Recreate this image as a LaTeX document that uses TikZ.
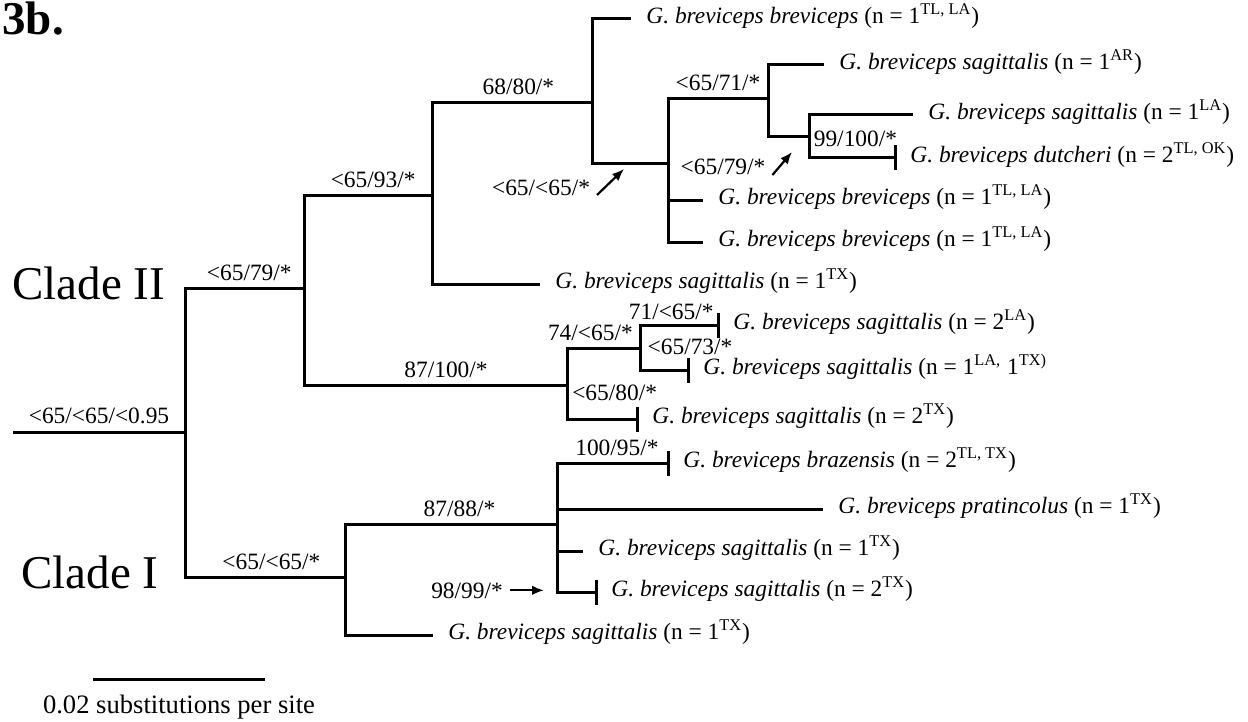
\documentclass[tikz,border=0pt]{standalone}
\usepackage{fontspec}
\setmainfont{Liberation Serif}
\usetikzlibrary{positioning,arrows.meta}

\newcommand{\gbrev}[3]{\textit{G. breviceps #1} (n = #2\textsuperscript{#3})}

\begin{document}
\begin{tikzpicture}[x=0.5pt, y=-0.5pt,
  font=\fontsize{11.7}{14}\selectfont,
  branch/.style={line width=1.5pt},
  supp/.style={anchor=base, inner sep=0pt, pos=.77, yshift=#1},
  supp/.default=4pt,
  taxon/.style={anchor=mid west, inner sep=0pt},
  ptr/.style={line width=1.1pt, -{Latex[length=6pt,width=4.8pt]}},
  clade/.style={anchor=base west, inner sep=0pt, font=\fontsize{23.5}{28}\selectfont}]
\useasboundingbox (0,0) rectangle (1248,722);

% inner nodes
\coordinate (r0)  at (13,432);
\coordinate (r)   at (185,432);
\coordinate (n2)  at (304,288);
\coordinate (n3)  at (432,195);
\coordinate (n4)  at (592,103);
\coordinate (n5)  at (668,164);
\coordinate (n6)  at (768,99);
\coordinate (n7)  at (809,137);
\coordinate (n8)  at (567,385);
\coordinate (n9)  at (640,348);
\coordinate (n10) at (345,577);
\coordinate (n11) at (557,524);

% tips
\coordinate (t1)  at (631,19);
\coordinate (t2)  at (824,65);
\coordinate (t3)  at (913,115);
\coordinate (t4)  at (895,158);
\coordinate (t5)  at (703,200);
\coordinate (t6)  at (703,242);
\coordinate (t7)  at (540,284);
\coordinate (t8)  at (718,325);
\coordinate (t9)  at (688,370);
\coordinate (t10) at (637,419);
\coordinate (t11) at (668,463);
\coordinate (t12) at (823,509);
\coordinate (t13) at (583,551);
\coordinate (t14) at (596,592);
\coordinate (t15) at (433,635);

% branches
\draw[branch] (r0) -- node[supp=4.5pt, pos=.5] (b1) {<65/<65/<0.95} (r);
\draw[branch] (r) |- node[supp] (b2) {<65/79/*} (n2);
\draw[branch] (r) |- node[supp] (b10) {<65/<65/*} (n10);
\draw[branch] (n2) |- node[supp] (b3) {<65/93/*} (n3);
\draw[branch] (n2) |- node[supp] (b8) {87/100/*} (n8);
\draw[branch] (n3) |- node[supp] (b4) {68/80/*} (n4);
\draw[branch] (n3) |- (t7);
\draw[branch] (n4) |- (t1);
\draw[branch] (n4) |- (n5);
\draw[branch] (n5) |- node[supp, pos=.75] (b6) {<65/71/*} (n6);
\draw[branch] (n5) |- (t5);
\draw[branch] (n5) |- (t6);
\draw[branch] (n6) |- (t2);
\draw[branch] (n6) |- (n7);
\draw[branch] (n7) |- (t3);
\draw[branch] (n7) |- node[supp=5.5pt] (b7) {99/100/*} (t4);
\draw[branch] (n8) |- node[supp, pos=.66] (b9) {74/<65/*} (n9);
\draw[branch] (n8) |- node[supp=9.5pt, pos=.84] (b10t) {<65/80/*} (t10);
\draw[branch] (n9) |- node[supp=3pt, pos=.7] (b8t) {71/<65/*} (t8);
\draw[branch] (n9) |- node[supp=8pt, pos=1, xshift=1pt] (b9t) {<65/73/*} (t9);
\draw[branch] (n10) |- node[supp] (b11) {87/88/*} (n11);
\draw[branch] (n10) |- (t15);
\draw[branch] (n11) |- node[supp] (b11t) {100/95/*} (t11);
\draw[branch] (n11) |- (t12);
\draw[branch] (n11) |- (t13);
\draw[branch] (n11) |- (t14);
\foreach \t in {t4,t8,t9,t10,t11,t14}
  \draw[branch] ([yshift=6.25pt]\t) -- ([yshift=-6.25pt]\t);

% tip labels
\node[right=7.5pt of t1,  taxon] (l1)  {\gbrev{breviceps}{1}{TL, LA}};
\node[right=7.5pt of t2,  taxon] (l2)  {\gbrev{sagittalis}{1}{AR}};
\node[right=7.5pt of t3,  taxon] (l3)  {\gbrev{sagittalis}{1}{LA}};
\node[right=7.5pt of t4,  taxon] (l4)  {\textit{G. breviceps dutcheri} (n = 2\textsuperscript{TL, OK})};
\node[right=7.5pt of t5,  taxon] (l5)  {\gbrev{breviceps}{1}{TL, LA}};
\node[right=7.5pt of t6,  taxon] (l6)  {\gbrev{breviceps}{1}{TL, LA}};
\node[right=7.5pt of t7,  taxon] (l7)  {\gbrev{sagittalis}{1}{TX}};
\node[right=7.5pt of t8,  taxon] (l8)  {\gbrev{sagittalis}{2}{LA}};
\node[right=7.5pt of t9,  taxon] (l9)  {\textit{G. breviceps sagittalis} (n = 1\textsuperscript{LA,} 1\textsuperscript{TX)}};
\node[right=7.5pt of t10, taxon] (l10) {\gbrev{sagittalis}{2}{TX}};
\node[right=7.5pt of t11, taxon] (l11) {\textit{G. breviceps brazensis} (n = 2\textsuperscript{TL, TX})};
\node[right=7.5pt of t12, taxon] (l12) {\textit{G. breviceps pratincolus} (n = 1\textsuperscript{TX})};
\node[right=7.5pt of t13, taxon] (l13) {\gbrev{sagittalis}{1}{TX}};
\node[right=7.5pt of t14, taxon] (l14) {\gbrev{sagittalis}{2}{TX}};
\node[right=7.5pt of t15, taxon] (l15) {\gbrev{sagittalis}{1}{TX}};

% arrowed support values
\coordinate (a5)  at (624,169);
\coordinate (a7)  at (792,152);
\coordinate (a14) at (544,593);
\node[anchor=base] (s5)  at (541,195) {<65/<65/*};
\node[anchor=base] (s7)  at (723,175) {<65/79/*};
\node[anchor=base] (s14) at (467,598) {98/99/*};
\draw[ptr] (s5.base east) -- (a5);
\draw[ptr] (s7.base east) -- (a7);
\draw[ptr] (s14.east) -- (s14.east -| a14);

% clades, panel, scale
\node[clade] (c2) at (12,299) {Clade II};
\node[clade] (c1) at (21,588) {Clade I};
\node[clade, font=\fontsize{23.5}{28}\selectfont\bfseries] (panel) at (2,35) {3b.};
\coordinate (sb1) at (93,679);
\coordinate (sb2) at (265,679);
\draw[branch] (sb1) -- node[anchor=base, pos=.5, yshift=-17pt, font=\fontsize{13.3}{16}\selectfont] (sbl) {0.02 substitutions per site} (sb2);
\end{tikzpicture}
\end{document}
